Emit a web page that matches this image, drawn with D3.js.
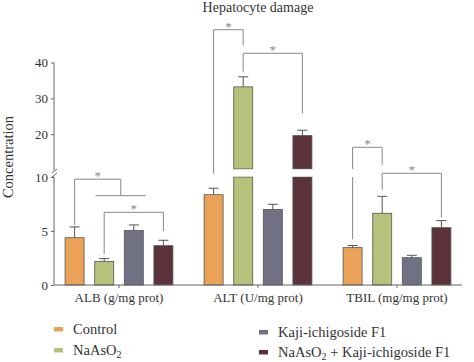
<!DOCTYPE html>
<html>
<head>
<meta charset="utf-8">
<title>Hepatocyte damage</title>
<script src="https://cdn.jsdelivr.net/npm/d3@7"></script>
<style>
html, body { margin: 0; padding: 0; background: #fff; }
svg text { font-family: "Liberation Serif", "DejaVu Serif", serif; }
</style>
</head>
<body>
<div id="chart"></div>
<script>
// data
const groups = ["ALB (g/mg prot)", "ALT (U/mg prot)", "TBIL (mg/mg prot)"];
const series = ["Control", "NaAsO2", "Kaji-ichigoside F1", "NaAsO2 + Kaji-ichigoside F1"];
const colors = ["#e9a257", "#b7c17b", "#707284", "#5b323a"];
const means = [
  [4.38, 2.19, 5.06, 3.64],
  [8.36, 33.2, 7.0, 19.6],
  [3.46, 6.64, 2.53, 5.31]
];
const errs = [
  [1.0, 0.25, 0.5, 0.5],
  [0.6, 2.8, 0.47, 1.5],
  [0.2, 1.57, 0.22, 0.65]
];
const lowTicks = [0, 5, 10];
const highTicks = [20, 30, 40];
// significance brackets: [group, from series, to series, top, from leg end, to leg end]
const brackets = [
  [0, 0, 1.56, 9.8, 5.55, 8.27],
  [0, 1, 3, 6.73, 2.87, 5.0],
  [1, 0, 1, 49.15, 10.3, 44.7],
  [1, 1, 3, 42.57, 37.43, 25.8],
  [2, 0, 1, 16.33, 4.23, 11.4],
  [2, 1, 3, 10.34, 8.8, 6.27]
];
// ALB: cross bar under the first bracket (group, from, to, value)
const crossBar = [0, 0.71, 2.4, 8.27];

const W = 474, H = 362;
const svg = d3.select("#chart").append("svg").attr("width", W).attr("height", H);

const x0 = d3.scaleBand().domain(d3.range(groups.length)).range([49.5, 466.5]).padding(0);
const x1 = d3.scaleBand().domain(d3.range(series.length)).range([-53.9, 53.9]).paddingInner(0.358).paddingOuter(0);
const yLow = d3.scaleLinear().domain([0, 10]).range([285, 177]);
const yHigh = d3.scaleLinear().domain([10, 40]).range([170, 62.5]);
const yv = v => v > 10.4 ? yHigh(v) : yLow(v);

const gc = g => x0(g) + x0.bandwidth() / 2;
// center x of a (possibly fractional) series position
const sx = (g, s) => gc(g) + x1(0) + x1.bandwidth() / 2 + s * x1.step();

// title
svg.append("text").attr("x", 258).attr("y", 12).attr("text-anchor", "middle")
  .attr("font-size", 14).style("fill", "#333").text("Hepatocyte damage");

// y label
svg.append("text").attr("transform", "translate(13,157) rotate(-90)")
  .attr("text-anchor", "middle").attr("font-size", 14.5).style("fill", "#333").text("Concentration");

// bars
const gGroups = svg.selectAll(".grp").data(means).join("g").attr("class", "grp");
gGroups.each(function(row, gi) {
  const g = d3.select(this);
  row.forEach((v, si) => {
    const bx = gc(gi) + x1(si), bw = x1.bandwidth();
    const low = Math.min(v, 10);
    g.append("rect").attr("x", bx).attr("y", yLow(low)).attr("width", bw)
      .attr("height", yLow(0) - yLow(low)).attr("fill", colors[si])
      .attr("stroke", "#555").attr("stroke-width", 0.8);
    if (v > 10) {
      g.append("rect").attr("x", bx).attr("y", yHigh(v)).attr("width", bw)
        .attr("height", yHigh(10.3) - yHigh(v)).attr("fill", colors[si])
        .attr("stroke", "#555").attr("stroke-width", 0.8);
    }
    // error bar
    const top = v + errs[gi][si];
    const ys = v > 10 ? yHigh : yLow;
    const cx = bx + bw / 2;
    g.append("line").attr("x1", cx).attr("x2", cx).attr("y1", ys(v)).attr("y2", ys(top))
      .attr("stroke", "#555").attr("stroke-width", 1);
    g.append("line").attr("x1", cx - 5).attr("x2", cx + 5).attr("y1", ys(top)).attr("y2", ys(top))
      .attr("stroke", "#555").attr("stroke-width", 1);
  });
});

// white gap of the broken axis
svg.append("rect").attr("x", 58).attr("y", yHigh(10.3) + 0.6).attr("width", 410)
  .attr("height", yLow(10) - yHigh(10.3) - 1.2).attr("fill", "#fff");

// y axes
const axLow = d3.axisLeft(yLow).tickValues(lowTicks).tickSize(3).tickPadding(3);
const axHigh = d3.axisLeft(yHigh).tickValues(highTicks).tickSize(3).tickPadding(3);
const gLow = svg.append("g").attr("transform", "translate(54,0)").call(axLow);
const gHigh = svg.append("g").attr("transform", "translate(54,0)").call(axHigh);
[gLow, gHigh].forEach(a => {
  a.select(".domain").remove();
  a.selectAll("line").attr("stroke", "#666");
  a.selectAll("text").attr("font-size", 13).attr("font-family", "Liberation Serif, serif").attr("fill", "#333");
});
svg.append("line").attr("x1", 54).attr("x2", 54).attr("y1", yHigh(40)).attr("y2", 170.5).attr("stroke", "#666");
svg.append("line").attr("x1", 54).attr("x2", 54).attr("y1", 176.5).attr("y2", yLow(0)).attr("stroke", "#666");
// break marks
[171, 175].forEach(y => {
  svg.append("line").attr("x1", 52).attr("x2", 57).attr("y1", y + 2).attr("y2", y - 2)
    .attr("stroke", "#666").attr("stroke-width", 1);
});

// x axis
const xAx = svg.append("g").attr("transform", "translate(0," + yLow(0) + ")")
  .call(d3.axisBottom(x0).tickSize(3).tickFormat(i => groups[i]).tickPadding(5));
xAx.select(".domain").remove();
xAx.selectAll("line").attr("stroke", "#666");
xAx.selectAll("text").attr("font-size", 13).attr("font-family", "Liberation Serif, serif").attr("fill", "#333");
svg.append("line").attr("x1", 54).attr("x2", 462).attr("y1", yLow(0)).attr("y2", yLow(0)).attr("stroke", "#666");

// significance brackets
const bs = svg.append("g").attr("stroke", "#888").attr("stroke-width", 1).attr("fill", "none");
function leg(x, vTop, vEnd) {
  const yt = yv(vTop), ye = yv(vEnd);
  if (vTop > 10.4 && vEnd < 10) {
    bs.append("line").attr("x1", x).attr("x2", x).attr("y1", yt).attr("y2", yHigh(10.3));
    bs.append("line").attr("x1", x).attr("x2", x).attr("y1", yLow(10)).attr("y2", ye);
  } else {
    bs.append("line").attr("x1", x).attr("x2", x).attr("y1", yt).attr("y2", ye);
  }
}
brackets.forEach(([g, a, b, top, ea, eb]) => {
  const xa = sx(g, a), xb = sx(g, b), yt = yv(top);
  bs.append("line").attr("x1", xa).attr("x2", xb).attr("y1", yt).attr("y2", yt);
  leg(xa, top, ea);
  leg(xb, top, eb);
  svg.append("text").attr("x", (xa + xb) / 2).attr("y", yt + 1).attr("text-anchor", "middle")
    .attr("font-size", 13).style("fill", "#888").text("*");
});
bs.append("line").attr("x1", sx(crossBar[0], crossBar[1])).attr("x2", sx(crossBar[0], crossBar[2]))
  .attr("y1", yLow(crossBar[3])).attr("y2", yLow(crossBar[3]));

// legend
const legPos = [[54, 329], [54, 350], [259, 332], [259, 352]];
series.forEach((s, i) => {
  const [lx, ly] = legPos[i];
  svg.append("rect").attr("x", lx).attr("y", ly - 2).attr("width", 9).attr("height", 4.5)
    .attr("fill", colors[i]);
  const t = svg.append("text").attr("x", lx + 19).attr("y", ly + 4.5).attr("font-size", 14.5)
    .style("fill", "#333");
  const parts = s.split("NaAsO2");
  if (parts.length > 1) {
    t.append("tspan").text("NaAsO");
    t.append("tspan").attr("font-size", 10).attr("dy", 3).text("2");
    t.append("tspan").attr("dy", -3).text(parts[1]);
  } else {
    t.text(s);
  }
});
</script>
</body>
</html>
